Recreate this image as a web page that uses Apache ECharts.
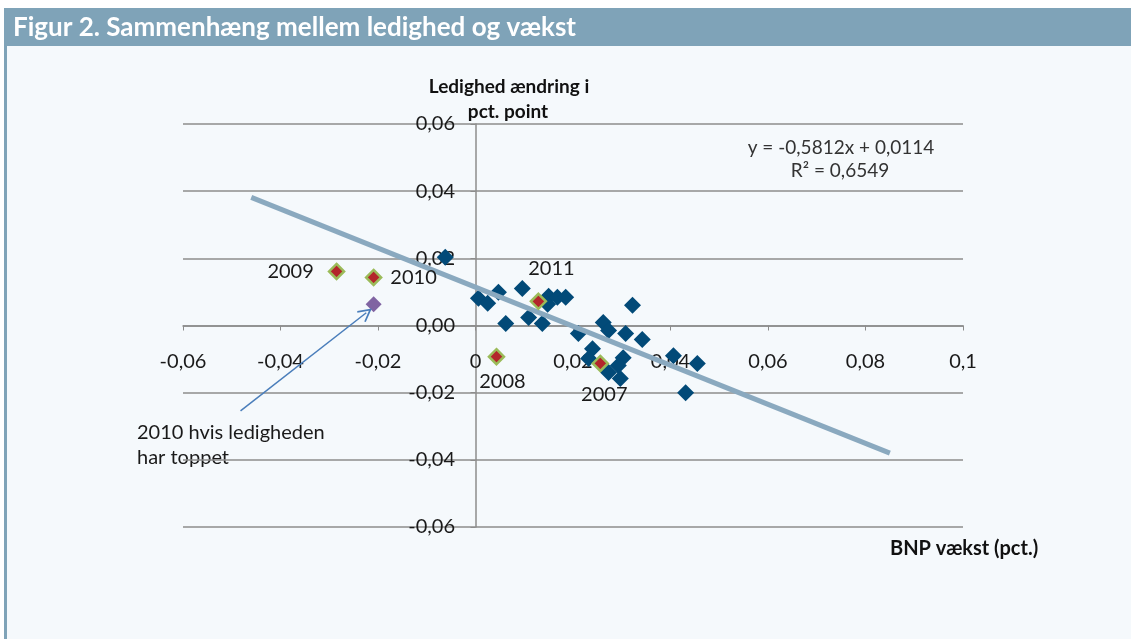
<!DOCTYPE html>
<html>
<head>
<meta charset="utf-8">
<script src="https://cdn.jsdelivr.net/npm/echarts@6/dist/echarts.min.js"></script>
<style>
  html, body { margin: 0; padding: 0; background: #ffffff; }
  #main { width: 1131px; height: 639px; }
</style>
</head>
<body>
<div id="main"></div>
<script>
// BNP vækst (x) og ændring i ledighed (y) for de enkelte år
const yearPoints = [
  [-0.0062, 0.0203], [0.0006, 0.0081], [0.0025, 0.0066], [0.0047, 0.0099],
  [0.0096, 0.011], [0.0062, 0.0006], [0.0109, 0.0024], [0.015, 0.0087],
  [0.0148, 0.0063], [0.0168, 0.0084], [0.0185, 0.0084], [0.0137, 0.0006],
  [0.0322, 0.006], [0.0262, 0.0009], [0.0211, -0.0024], [0.0273, -0.0015],
  [0.0308, -0.0024], [0.0342, -0.0042], [0.024, -0.0069], [0.0232, -0.0098],
  [0.0303, -0.0096], [0.0293, -0.0119], [0.0273, -0.014], [0.0297, -0.0158],
  [0.0406, -0.009], [0.0455, -0.0113], [0.0431, -0.02]
];

// fremhævede år
const markedYears = ['2007', '2008', '2009', '2010', '2011'];
const markedX = [0.0256, 0.0043, -0.0285, -0.0209, 0.0129];
const markedY = [-0.0113, -0.0093, 0.0161, 0.0143, 0.0072];
const markedLabelPos = ['bottom', 'bottom', 'left', 'right', 'top'];
const markedLabelGap = [12, 6, 14, 8, 14];
const markedLabelShift = [4, 6, 0, 0, 13];

// 2010 hvis ledigheden har toppet
const peakPoint = [-0.0209, 0.0063];
const arrowFrom = [-0.0482, -0.0254];
const arrowTo = [-0.0224, 0.0038];

// lineær tendenslinje
const trendSlope = -0.5812;
const trendIntercept = 0.0114;
const trendRange = [-0.046, 0.085];

const xTicks = { min: -0.06, max: 0.1, step: 0.02 };
const yTicks = { min: -0.06, max: 0.06, step: 0.02 };

const fmt = (v, dec) => {
  const r = Math.round(v * 1000) / 1000;
  if (dec) return r.toFixed(2).replace('.', ',');
  return String(r).replace('.', ',');
};

const chart = echarts.init(document.getElementById('main'));

const option = {
  backgroundColor: '#f5f9fc',
  animation: false,
  textStyle: { fontFamily: 'Lato' },
  grid: { left: 183, right: 168, top: 124, bottom: 112 },
  xAxis: {
    type: 'value',
    min: xTicks.min, max: xTicks.max, interval: xTicks.step,
    axisLine: { onZero: true, lineStyle: { color: '#8c8c8c', width: 1.5 } },
    axisTick: { show: true, length: 5, lineStyle: { color: '#8c8c8c' } },
    splitLine: { show: false },
    axisLabel: {
      margin: -175, fontSize: 20, color: '#1a1a1a',
      formatter: (v) => fmt(v, false)
    }
  },
  yAxis: {
    type: 'value',
    min: yTicks.min, max: yTicks.max, interval: yTicks.step,
    axisLine: { onZero: true, lineStyle: { color: '#8c8c8c', width: 1.5 } },
    axisTick: { show: true, length: 5, lineStyle: { color: '#8c8c8c' } },
    splitLine: { show: true, lineStyle: { color: '#8c8c8c', width: 1.5 } },
    axisLabel: {
      margin: -272, fontSize: 20, color: '#1a1a1a',
      formatter: (v) => fmt(v, true)
    }
  },
  series: [
    {
      type: 'scatter',
      symbol: 'diamond',
      symbolSize: 17,
      itemStyle: { color: '#024a78', opacity: 1 },
      data: yearPoints,
      z: 2
    },
    {
      type: 'line',
      showSymbol: false,
      lineStyle: { color: '#8aa9bf', width: 5 },
      data: trendRange.map((x) => [x, trendSlope * x + trendIntercept]),
      z: 3
    },
    {
      type: 'scatter',
      symbol: 'diamond',
      symbolSize: 15,
      itemStyle: { color: '#b3262b', borderColor: '#9bbb59', borderWidth: 2.5, opacity: 1 },
      data: markedYears.map((name, i) => ({
        name,
        value: [markedX[i], markedY[i]],
        label: {
          show: true,
          formatter: name,
          position: markedLabelPos[i],
          distance: markedLabelGap[i],
          offset: [markedLabelShift[i], 0],
          fontSize: 20,
          color: '#1a1a1a'
        }
      })),
      z: 4
    },
    {
      type: 'scatter',
      symbol: 'diamond',
      symbolSize: 16,
      itemStyle: { color: '#8064a2', opacity: 1 },
      data: [peakPoint],
      markLine: {
        silent: true,
        symbol: ['none', 'path://M0,0 L10,14 L8,15 L0,4 L-8,15 L-10,14 Z'],
        symbolSize: [14, 14],
        lineStyle: { color: '#4a7ebb', width: 1.5, type: 'solid' },
        label: { show: false },
        data: [[{ coord: arrowFrom }, { coord: arrowTo }]]
      },
      z: 4
    }
  ],
  graphic: [
    { type: 'rect', left: 0, top: 0, shape: { width: 1131, height: 8 }, style: { fill: '#ffffff' }, silent: true },
    { type: 'rect', left: 0, top: 8, shape: { width: 1131, height: 38 }, style: { fill: '#7fa3b8' }, silent: true },
    { type: 'rect', left: 0, top: 0, shape: { width: 4, height: 639 }, style: { fill: '#ffffff' }, silent: true },
    { type: 'rect', left: 4, top: 46, shape: { width: 3, height: 593 }, style: { fill: '#7fa3b8' }, silent: true },
    {
      type: 'text', left: 13, top: 15,
      style: { text: 'Figur 2. Sammenhæng mellem ledighed og vækst', fill: '#ffffff', font: 'bold 26px Lato' }
    },
    {
      type: 'text', x: 509, y: 77,
      style: { text: 'Ledighed ændring i', fill: '#111111', font: 'bold 19px Lato', align: 'center', verticalAlign: 'top' }
    },
    {
      type: 'text', x: 508, y: 102,
      style: { text: 'pct. point', fill: '#111111', font: 'bold 19px Lato', align: 'center', verticalAlign: 'top' }
    },
    {
      type: 'text', x: 841, y: 138,
      style: { text: 'y = -0,5812x + 0,0114', fill: '#333333', font: '19px Lato', align: 'center', verticalAlign: 'top' }
    },
    {
      type: 'text', x: 840, y: 161,
      style: { text: 'R² = 0,6549', fill: '#333333', font: '19px Lato', align: 'center', verticalAlign: 'top' }
    },
    {
      type: 'text', left: 890, top: 539,
      style: { text: 'BNP vækst (pct.)', fill: '#111111', font: 'bold 20px Lato' }
    },
    {
      type: 'text', left: 137, top: 420,
      style: { text: '2010 hvis ledigheden\nhar toppet', fill: '#1a1a1a', font: '20px Lato', lineHeight: 25 }
    }
  ]
};

chart.setOption(option);
</script>
</body>
</html>
